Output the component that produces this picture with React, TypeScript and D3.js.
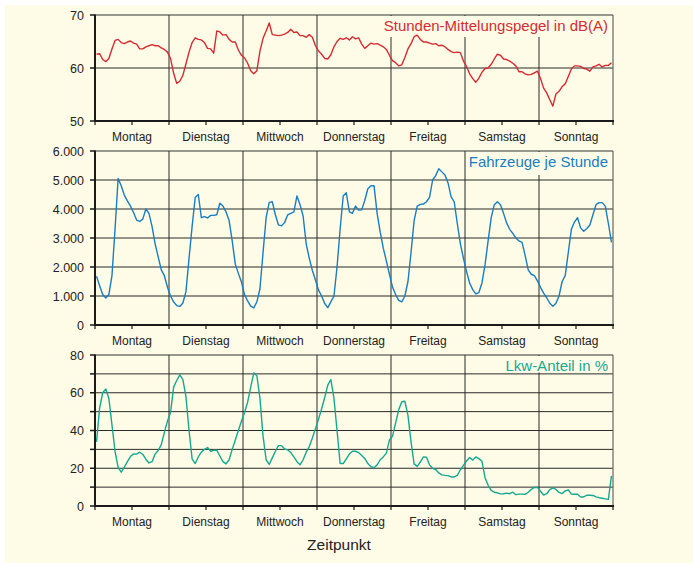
import { scaleLinear, line, formatLocale } from "d3";

// hourly values, Monday 0:00 to Sunday 24:00 (7 x 24)
const dayNames = ["Montag", "Dienstag", "Mittwoch", "Donnerstag", "Freitag", "Samstag", "Sonntag"];

const pegel = [
  62.6, 62.7, 61.6, 61.2, 61.8, 63.6, 65.2, 65.4, 64.8, 64.6, 64.9, 65.1, 64.7, 64.5, 63.6, 63.6, 64.0, 64.2, 64.4, 64.2, 64.2, 63.8, 63.5, 63.0,
  61.8, 59.0, 57.1, 57.5, 58.6, 60.8, 63.0, 64.8, 65.7, 65.4, 65.3, 64.8, 63.7, 63.6, 62.8, 67.0, 66.8, 66.2, 66.3, 65.4, 64.9, 64.9, 63.4, 62.4,
  61.9, 60.9, 59.5, 58.9, 59.5, 63.2, 65.6, 67.0, 68.5, 66.3, 66.2, 66.1, 66.2, 66.4, 66.7, 67.3, 66.7, 66.8, 66.1, 66.1, 65.8, 66.3, 65.8, 64.2,
  63.2, 62.6, 61.8, 61.7, 62.5, 64.0, 65.0, 65.6, 65.4, 65.7, 65.3, 65.9, 65.5, 65.7, 64.5, 63.7, 64.2, 64.7, 64.5, 64.6, 64.3, 64.0, 63.5, 62.4,
  61.4, 61.0, 60.4, 60.6, 62.0, 63.6, 64.6, 65.9, 66.2, 65.4, 64.9, 64.9, 64.7, 64.5, 64.6, 64.2, 64.3, 64.0, 63.5, 63.1, 62.9, 63.0, 62.9, 61.3,
  60.3, 58.9, 58.0, 57.3, 58.1, 59.2, 59.9, 60.0, 60.7, 61.7, 62.6, 62.4, 61.7, 61.6, 61.3, 60.9, 60.4, 59.3, 59.3, 58.9, 58.7, 58.8, 59.1, 59.4,
  58.0, 56.2, 55.3, 54.0, 52.8, 55.1, 55.6, 56.5, 57.0, 58.4, 59.8, 60.4, 60.4, 60.3, 59.9, 59.8, 59.4, 60.2, 60.4, 60.7, 60.2, 60.5, 60.5, 61.0,
];

const fahrzeuge = [
  1680, 1350, 1050, 930, 1050, 1700, 3300, 5050, 4800, 4480, 4280, 4100, 3880, 3620, 3570, 3650, 4000, 3850, 3400, 2800, 2350, 1900, 1700, 1300,
  1000, 800, 670, 640, 760, 1150, 2300, 3400, 4400, 4500, 3700, 3740, 3690, 3780, 3780, 3800, 4200, 4100, 3900, 3600, 2900, 2100, 1780, 1480,
  1050, 830, 650, 590, 800, 1250, 2500, 3700, 4230, 4250, 3800, 3450, 3420, 3530, 3800, 3850, 3900, 4450, 4150, 3750, 2800, 2300, 1880, 1550,
  1200, 1000, 740, 600, 800, 1000, 2000, 3300, 4450, 4560, 3900, 3850, 4100, 3960, 3970, 4300, 4700, 4800, 4800, 3850, 3200, 2650, 2200, 1750,
  1300, 1050, 850, 800, 1000, 1500, 2500, 3600, 4100, 4160, 4170, 4250, 4400, 5000, 5150, 5390, 5280, 5170, 4900, 4420, 4250, 3500, 2800, 2300,
  1850, 1450, 1220, 1070, 1120, 1450, 2080, 2900, 3700, 4150, 4250, 4150, 3850, 3520, 3300, 3160, 3000, 2900, 2850, 2400, 1900, 1750, 1700, 1520,
  1300, 1100, 940, 750, 650, 750, 1000, 1500, 1700, 2500, 3300, 3550, 3700, 3350, 3230, 3330, 3450, 3800, 4150, 4220, 4220, 4100, 3500, 2850,
];

const lkw = [
  34, 52, 60, 62, 57, 43, 29, 20.5, 17.9, 20.5, 23.5, 26.2, 27.6, 27.5, 28.5, 27.3, 24.8, 22.8, 23.5, 27.5, 29.4, 32.5, 39, 45,
  49.5, 63, 66.5, 69.5, 67, 58, 40, 25, 22.5, 26, 28.5, 30, 31, 29, 29.5, 29.5, 26.5, 23.5, 22.3, 24.5, 30, 35, 40, 45,
  49.5, 55, 63, 70.5, 69, 57, 37, 24.5, 22, 25.5, 29, 32, 32, 30.2, 29.7, 28.3, 26, 23.5, 21.8, 24.5, 28.5, 31.5, 36, 41,
  46, 51.5, 57.5, 64, 67, 57, 40, 22.5, 22.5, 25, 27.5, 29, 29, 28.3, 26.8, 25.2, 22.5, 20.8, 20.3, 21.8, 24.5, 26, 28, 35,
  37, 44, 51, 55.2, 55.5, 48, 34, 22.3, 21, 23.3, 26, 25.8, 21.8, 20, 19.3, 17.5, 16.5, 16.2, 16.1, 15.4, 15.4, 16.2, 19.2, 21.5,
  23.8, 25.7, 24.3, 26, 25.1, 23.7, 15, 11, 8.3, 7.3, 7, 6.4, 6.5, 6.8, 6.5, 7.3, 6.0, 6.3, 6.3, 6.2, 7.3, 8.8, 9.8, 9.9,
  7.8, 5.8, 6.5, 8.7, 9.6, 8.8, 7.2, 6.6, 8, 8.5, 6.3, 6.2, 6.2, 4.8, 4.8, 5.7, 5.7, 5.6, 4.8, 4.4, 4.1, 3.8, 3.5, 16,
];

const de = formatLocale({ decimal: ",", thousands: ".", grouping: [3], currency: ["", " €"] });
const formatNumber = de.format(",d");

const width = 693;
const height = 563;
const font = "'Liberation Sans', Arial, Helvetica, sans-serif";
const textColor = "#222";
const gridColor = "#2b2b2b";

const xScale = scaleLinear().domain([0, 168]).range([95, 613]);

const panels = [
  {
    key: "pegel",
    data: pegel,
    color: "#d52b33",
    domain: [50, 70],
    range: [121, 15],
    grid: [60],
    ticks: [50, 60, 70],
    labels: [50, 60, 70],
    title: "Stunden-Mittelungspegel in dB(A)",
    titleBox: [380, 37],
  },
  {
    key: "fahrzeuge",
    data: fahrzeuge,
    color: "#1a7cc1",
    domain: [0, 6000],
    range: [325, 151],
    grid: [1000, 2000, 3000, 4000, 5000],
    ticks: [0, 1000, 2000, 3000, 4000, 5000, 6000],
    labels: [0, 1000, 2000, 3000, 4000, 5000, 6000],
    title: "Fahrzeuge je Stunde",
    titleBox: [467, 175],
  },
  {
    key: "lkw",
    data: lkw,
    color: "#14a891",
    domain: [0, 80],
    range: [506, 355],
    grid: [10, 20, 30, 40, 50, 60, 70],
    ticks: [0, 10, 20, 30, 40, 50, 60, 70, 80],
    labels: [0, 20, 40, 60, 80],
    title: "Lkw-Anteil in %",
    titleBox: [467, 372.5],
  },
];

const hourTicks = Array.from({ length: 15 }, (_, i) => i * 12);

const Panel = ({ p }) => {
  const yScale = scaleLinear().domain(p.domain).range(p.range);
  const [bottom, top] = p.range;
  const left = xScale(0);
  const right = xScale(168);
  const path = line()
    .x((d, i) => xScale(i + 0.5))
    .y((d) => yScale(d))(p.data);

  return (
    <g>
      {p.grid.map((v) => (
        <line key={v} x1={left} x2={right} y1={yScale(v)} y2={yScale(v)} stroke={gridColor} strokeWidth={1} />
      ))}
      {dayNames.slice(1).map((d, i) => (
        <line key={d} x1={xScale((i + 1) * 24)} x2={xScale((i + 1) * 24)} y1={top} y2={bottom} stroke={gridColor} strokeWidth={1} />
      ))}
      <line x1={left} x2={right} y1={top} y2={top} stroke="#333" strokeWidth={1.2} />
      <line x1={right} x2={right} y1={top} y2={bottom} stroke="#666" strokeWidth={1.2} />
      <rect x={p.titleBox[0]} y={top + 1} width={right - p.titleBox[0] - 1} height={p.titleBox[1] - top - 1} fill="#fefce6" />
      <text x={608} y={top + 16} textAnchor="end" fill={p.color} fontSize={15} fontFamily={font}>
        {p.title}
      </text>
      <path d={path} fill="none" stroke={p.color} strokeWidth={1.4} strokeLinejoin="round" />
      <line x1={left} x2={left} y1={top - 0.5} y2={bottom} stroke="#1a1a1a" strokeWidth={2} />
      <line x1={left - 1} x2={right + 1} y1={bottom} y2={bottom} stroke="#1a1a1a" strokeWidth={2} />
      {p.ticks.map((v) => (
        <line key={v} x1={left - 5} x2={left} y1={yScale(v)} y2={yScale(v)} stroke="#1a1a1a" strokeWidth={1.5} />
      ))}
      {p.labels.map((v) => (
        <text key={v} x={84} y={yScale(v)} dy="0.36em" textAnchor="end" fontSize={12.5} fontFamily={font} fill={textColor}>
          {formatNumber(v)}
        </text>
      ))}
      {hourTicks.map((h) => (
        <line key={h} x1={xScale(h)} x2={xScale(h)} y1={bottom} y2={bottom + 4} stroke="#1a1a1a" strokeWidth={1.2} />
      ))}
      {dayNames.map((d, i) => (
        <text key={d} x={xScale(i * 24 + 12)} y={bottom + 20} textAnchor="middle" fontSize={12} fontFamily={font} fill={textColor}>
          {d}
        </text>
      ))}
    </g>
  );
};

const App = () => {
  return (
    <svg width={width} height={height} style={{ position: "absolute", left: 0, top: 0 }}>
      <rect x={0} y={0} width={width} height={height} fill="#ffffff" />
      <rect x={5} y={5} width={width - 5} height={height - 5} fill="#fefce6" />
      {panels.map((p) => (
        <Panel key={p.key} p={p} />
      ))}
      <text x={339} y={550} textAnchor="middle" fontSize={15.5} fontFamily={font} fill={textColor}>
        Zeitpunkt
      </text>
    </svg>
  );
};

export default App;
